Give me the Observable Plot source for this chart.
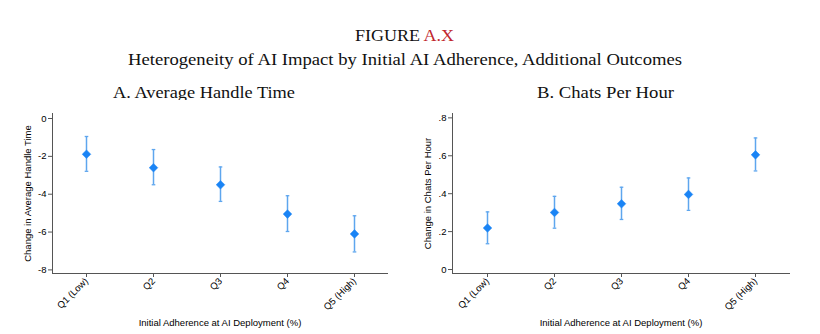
<!DOCTYPE html>
<html><head><meta charset="utf-8">
<script src="https://cdn.jsdelivr.net/npm/d3@7"></script>
<script src="https://cdn.jsdelivr.net/npm/@observablehq/plot@0.6"></script>
<style>
body{margin:0;background:#fff;}
#wrap{position:relative;width:820px;height:334px;overflow:hidden;background:#fff;}
#titles{position:absolute;left:0;top:0;}
.panel{position:absolute;top:100px;}
</style></head><body><div id="wrap"></div>
<script>
const quintiles = ["Q1 (Low)", "Q2", "Q3", "Q4", "Q5 (High)"];
// Panel A: Average Handle Time
const ahtEst = [-1.89, -2.60, -3.50, -5.05, -6.10];
const ahtHi  = [-0.95, -1.64, -2.56, -4.08, -5.14];
const ahtLo  = [-2.79, -3.50, -4.38, -5.97, -7.05];
const ahtTicks = [0, -2, -4, -6, -8];
const ahtTickLabels = ["0", "-2", "-4", "-6", "-8"];
// Panel B: Chats Per Hour
const cphEst = [0.219, 0.301, 0.347, 0.396, 0.605];
const cphHi  = [0.304, 0.386, 0.434, 0.483, 0.694];
const cphLo  = [0.136, 0.218, 0.264, 0.312, 0.520];
const cphTicks = [0, 0.2, 0.4, 0.6, 0.8];
const cphTickLabels = ["0", ".2", ".4", ".6", ".8"];

const figLabel = "FIGURE ";
const figNum = "A.X";
const subtitle = "Heterogeneity of AI Impact by Initial AI Adherence, Additional Outcomes";
const titleA = "A. Average Handle Time";
const titleB = "B. Chats Per Hour";
const xLabel = "Initial Adherence at AI Deployment (%)";

const ptColor = "#1a84f5";
const errColor = "#5ea6ee";
const axisColor = "#555";

const wrap = document.getElementById("wrap");

// Titles overlay
const ns = "http://www.w3.org/2000/svg";
const tsvg = document.createElementNS(ns, "svg");
tsvg.setAttribute("id", "titles");
tsvg.setAttribute("width", 820);
tsvg.setAttribute("height", 110);
function addText(x, y, str, size, len, parts) {
  const t = document.createElementNS(ns, "text");
  t.setAttribute("x", x); t.setAttribute("y", y);
  t.setAttribute("font-family", "Liberation Serif, Times New Roman, serif");
  t.setAttribute("font-size", size);
  t.setAttribute("fill", "#111");
  if (len) { t.setAttribute("textLength", len); t.setAttribute("lengthAdjust", "spacingAndGlyphs"); }
  if (parts) {
    for (const [s, c] of parts) {
      const sp = document.createElementNS(ns, "tspan");
      sp.textContent = s; sp.setAttribute("fill", c);
      t.appendChild(sp);
    }
  } else t.textContent = str;
  tsvg.appendChild(t);
}
addText(355, 40.7, null, 17, 99, [[figLabel, "#111"], [figNum, "#c1272d"]]);
addText(128, 65, subtitle, 17.5, 554);
addText(113, 98.3, titleA, 17, 182);
addText(537, 98.3, titleB, 17, 137);
wrap.appendChild(tsvg);

const cap = {draw(ctx, size) { const w = Math.sqrt(size / Math.PI); ctx.moveTo(-w, 0); ctx.lineTo(w, 0); }};

function panel({est, hi, lo, ticks, tickLabels, domain, ylabel, marginLeft, marginRight}) {
  const rows = quintiles.map((q, i) => ({q, est: est[i], hi: hi[i], lo: lo[i]}));
  const fmt = d => tickLabels[ticks.indexOf(d)];
  return Plot.plot({
    width: 410, height: 234,
    marginTop: 13, marginBottom: 61, marginLeft, marginRight,
    style: {fontFamily: "Liberation Sans, Arial, sans-serif", fontSize: "9.5px", color: "#000", background: "#fff", overflow: "visible"},
    x: {type: "point", domain: quintiles, padding: 0.5},
    y: {domain},
    marks: [
      Plot.frame({anchor: "left", stroke: axisColor}),
      Plot.frame({anchor: "bottom", stroke: axisColor}),
      Plot.axisY({ticks, tickFormat: fmt, tickSize: 4, tickPadding: 2, stroke: axisColor,
        label: ylabel, labelAnchor: "center", labelArrow: "none", labelOffset: 28}),
      Plot.axisX({tickRotate: -45, tickSize: 4, tickPadding: 2, stroke: axisColor,
        label: xLabel, labelAnchor: "center", labelArrow: "none", labelOffset: 52}),
      Plot.ruleX(rows, {x: "q", y1: "lo", y2: "hi", stroke: errColor, strokeWidth: 1.5}),
      Plot.dot(rows, {x: "q", y: "hi", symbol: cap, r: 1.8, stroke: errColor, strokeWidth: 1.3}),
      Plot.dot(rows, {x: "q", y: "lo", symbol: cap, r: 1.8, stroke: errColor, strokeWidth: 1.3}),
      Plot.dot(rows, {x: "q", y: "est", symbol: "diamond2", r: 3.9, fill: ptColor, stroke: ptColor, strokeWidth: 0.5})
    ]
  });
}

const pA = panel({est: ahtEst, hi: ahtHi, lo: ahtLo, ticks: ahtTicks, tickLabels: ahtTickLabels,
  domain: [-8.19, 0.265], ylabel: "Change in Average Handle Time", marginLeft: 52, marginRight: 23});
pA.classList.add("panel"); pA.style.left = "0px";
wrap.appendChild(pA);

const pB = panel({est: cphEst, hi: cphHi, lo: cphLo, ticks: cphTicks, tickLabels: cphTickLabels,
  domain: [-0.021, 0.823], ylabel: "Change in Chats Per Hour", marginLeft: 42, marginRight: 31});
pB.classList.add("panel"); pB.style.left = "410px";
wrap.appendChild(pB);
</script></body></html>
